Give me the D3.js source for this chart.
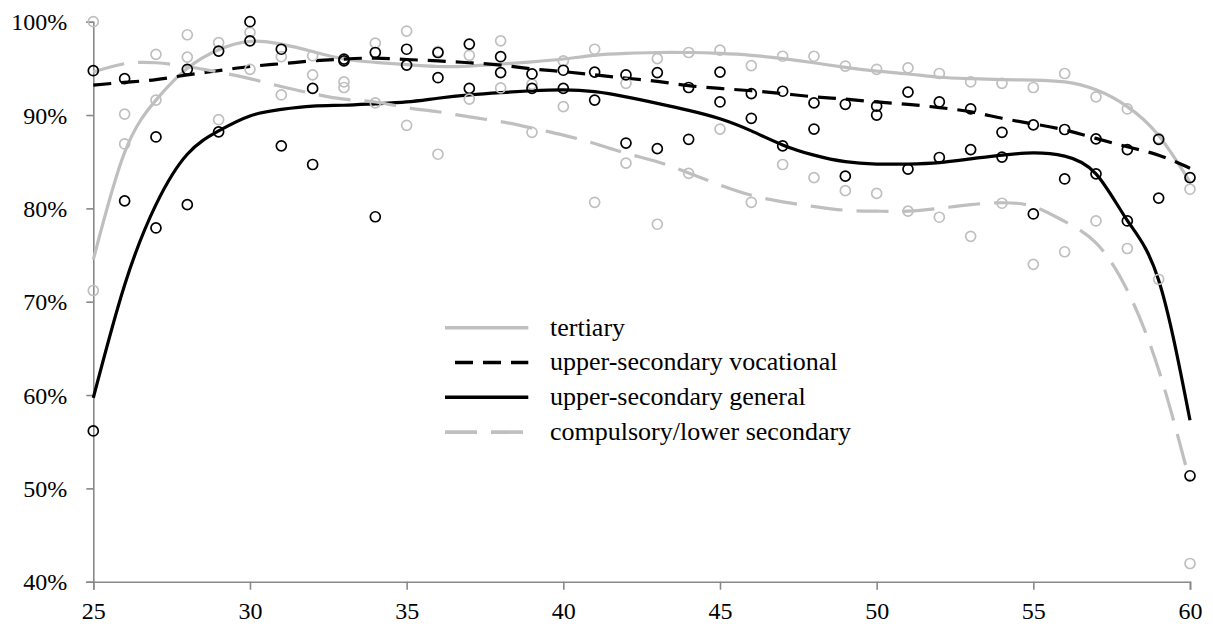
<!DOCTYPE html>
<html>
<head>
<meta charset="utf-8">
<script src="https://cdn.jsdelivr.net/npm/d3@7"></script>
<style>
  body { margin: 0; background: #fff; }
  svg text { font-family: "Liberation Serif", "Times New Roman", serif; fill: #000; }
</style>
</head>
<body>
<div id="chart"></div>
<script>
// ages on the x axis
const ages = [25, 26, 27, 28, 29, 30, 31, 32, 33, 34, 35, 36, 37, 38, 39, 40, 41, 42,
              43, 44, 45, 46, 47, 48, 49, 50, 51, 52, 53, 54, 55, 56, 57, 58, 59, 60];

// observed shares (%) per age
const tertiaryPts = [71.2, 86.9, 91.6, 98.6, 97.75, 98.85, 96.25, 96.35, 93.55, 97.7, 99.0, 96.8,
  96.4, 97.95, 93.3, 95.8, 97.05, 93.4, 96.05, 96.7, 96.95, 95.3, 96.3, 96.3, 95.25, 94.9, 95.05,
  94.45, 93.55, 93.4, 92.95, 94.45, 91.95, 90.65, 87.5, 82.05];
const vocationalPts = [94.75, 93.9, 87.65, 94.9, 96.85, 100.0, 97.05, 92.85, 96.0, 96.7, 97.05, 96.7,
  97.6, 96.25, 94.4, 94.8, 94.6, 94.3, 94.55, 92.95, 94.6, 92.3, 92.55, 91.3, 91.15, 90.95, 92.45,
  91.4, 90.65, 88.15, 88.95, 88.45, 87.45, 86.3, 87.4, 83.3];
const generalPts = [56.15, 80.8, 77.9, 80.4, 88.2, 97.95, 86.7, 84.7, 95.8, 79.1, 95.35, 94.0,
  92.85, 94.55, 92.85, 92.85, 91.6, 87.0, 86.4, 87.4, 91.4, 89.65, 86.7, 88.5, 83.45, 90.0, 84.2,
  85.45, 86.3, 85.5, 79.4, 83.15, 83.7, 78.65, 81.1, 51.35];
const compulsoryPts = [100.0, 90.1, 96.5, 96.2, 89.5, 94.9, 92.15, 94.3, 92.95, 91.3, 88.9, 85.8,
  91.7, 92.9, 88.15, 90.9, 80.65, 84.85, 78.3, 83.75, 88.5, 80.65, 84.7, 83.3, 81.9, 81.6, 79.7,
  79.05, 77.0, 80.55, 74.0, 75.35, 78.65, 75.7, 72.4, 41.95];

// smoothed trend (%) per age
const tertiaryFit = [74.5, 86.0, 91.6, 95.0, 97.0, 97.9, 97.6, 96.8, 96.0, 95.65, 95.4, 95.2,
  95.25, 95.45, 95.7, 96.0, 96.4, 96.6, 96.7, 96.7, 96.6, 96.4, 96.05, 95.6, 95.1, 94.7, 94.4,
  94.05, 93.9, 93.8, 93.75, 93.55, 92.7, 90.9, 87.8, 82.8];
const vocationalFit = [93.2, 93.5, 93.8, 94.3, 94.75, 95.2, 95.5, 95.8, 96.0, 96.1, 95.95, 95.8,
  95.6, 95.35, 94.95, 94.65, 94.3, 93.95, 93.6, 93.15, 92.85, 92.6, 92.3, 91.95, 91.7, 91.4, 91.15,
  90.8, 90.35, 89.65, 89.05, 88.4, 87.5, 86.6, 85.7, 84.3];
const generalFit = [59.7, 71.8, 80.4, 85.8, 88.3, 89.9, 90.6, 90.95, 91.05, 91.2, 91.4, 91.8,
  92.15, 92.4, 92.6, 92.7, 92.5, 91.95, 91.25, 90.5, 89.6, 88.3, 86.8, 85.7, 85.0, 84.75, 84.75,
  84.9, 85.3, 85.7, 85.95, 85.6, 83.7, 78.7, 72.3, 57.3];
const compulsoryFit = [94.6, 95.5, 95.6, 95.2, 94.6, 93.9, 93.05, 92.3, 91.7, 91.4, 90.8, 90.35,
  89.8, 89.3, 88.6, 87.85, 86.95, 85.9, 85.0, 83.8, 82.5, 81.4, 80.7, 80.2, 79.8, 79.7, 79.7,
  80.0, 80.4, 80.6, 80.2, 78.6, 76.3, 71.2, 62.7, 50.7];

const xTicks = [25, 30, 35, 40, 45, 50, 55, 60];
const yTicks = [40, 50, 60, 70, 80, 90, 100];

const series = [
  { name: 'tertiary', pts: tertiaryPts, fit: tertiaryFit, color: '#bfbfbf', dash: null },
  { name: 'upper-secondary vocational', pts: vocationalPts, fit: vocationalFit, color: '#000', dash: '18,10' },
  { name: 'upper-secondary general', pts: generalPts, fit: generalFit, color: '#000', dash: null },
  { name: 'compulsory/lower secondary', pts: compulsoryPts, fit: compulsoryFit, color: '#bfbfbf', dash: '32,14' }
];

const width = 1213, height = 630;
const x = d3.scaleLinear().domain([25, 60]).range([93.3, 1190]);
const y = d3.scaleLinear().domain([40, 100]).range([581.7, 21.7]);

const svg = d3.select('#chart').append('svg')
  .attr('width', width)
  .attr('height', height);

// axes
const axisColor = '#898989';
const xAxis = svg.append('g')
  .attr('transform', `translate(0,${y(40)})`)
  .call(d3.axisBottom(x).tickValues(xTicks).tickSize(8).tickPadding(12).tickFormat(d3.format('d')));
const yAxis = svg.append('g')
  .attr('transform', `translate(${x(25)},0)`)
  .call(d3.axisLeft(y).tickValues(yTicks).tickSize(7).tickPadding(19).tickFormat(d => d + '%'));

[xAxis, yAxis].forEach(g => {
  g.select('.domain').attr('stroke', axisColor).attr('stroke-width', 1.6);
  g.selectAll('.tick line').attr('stroke', axisColor).attr('stroke-width', 1.6);
  g.selectAll('.tick text').attr('font-size', 24)
    .style('font-family', '"Liberation Serif", "Times New Roman", serif').attr('fill', '#000');
});
yAxis.selectAll('.tick text').attr('dy', '0.34em');
xAxis.selectAll('.tick text').attr('dy', '0.72em');

// trend lines
const line = d3.line()
  .x((d, i) => x(ages[i]))
  .y(d => y(d))
  .curve(d3.curveNatural);

svg.append('g').selectAll('path')
  .data(series)
  .enter().append('path')
  .attr('d', d => line(d.fit))
  .attr('fill', 'none')
  .attr('stroke', d => d.color)
  .attr('stroke-width', 3.2)
  .attr('stroke-dasharray', d => d.dash);

// scatter points
series.forEach(s => {
  svg.append('g').selectAll('circle')
    .data(s.pts)
    .enter().append('circle')
    .attr('cx', (d, i) => x(ages[i]))
    .attr('cy', d => y(d))
    .attr('r', 5)
    .attr('fill', 'none')
    .attr('stroke', s.color)
    .attr('stroke-width', 1.7);
});

// legend
const legend = svg.append('g').attr('transform', 'translate(445,327.7)');
const rows = legend.selectAll('g')
  .data(series)
  .enter().append('g')
  .attr('transform', (d, i) => `translate(0,${i * 34.8})`);

rows.append('line')
  .attr('x1', d => d.name === 'upper-secondary vocational' ? 10 : 0)
  .attr('x2', 83.3)
  .attr('stroke', d => d.color)
  .attr('stroke-width', 3.6)
  .attr('stroke-dasharray', d => d.dash);

rows.append('text')
  .attr('x', 105)
  .attr('dy', '0.3em')
  .attr('font-size', 26)
  .text(d => d.name);
</script>
</body>
</html>
